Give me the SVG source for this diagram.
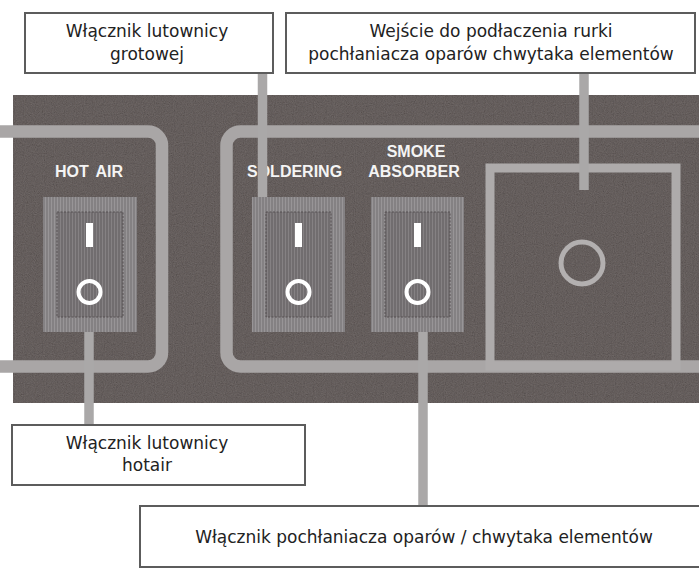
<svg xmlns="http://www.w3.org/2000/svg" width="699" height="569" viewBox="0 0 699 569">
<defs>
<filter id="noise" x="0" y="0" width="100%" height="100%">
<feTurbulence type="fractalNoise" baseFrequency="0.9" numOctaves="2" seed="3" result="t"/>
<feColorMatrix in="t" type="matrix" values="0.4 0.3 0.3 0 0  0.35 0.35 0.3 0 0  0.3 0.35 0.35 0 0  0 0 0 0 0.3"/>
</filter>
<pattern id="stripesLight" width="3" height="10" patternUnits="userSpaceOnUse">
<rect width="3" height="10" fill="#848183"/>
<rect width="1" height="10" fill="#989597"/>
</pattern>
<pattern id="stripesDark" width="3" height="10" patternUnits="userSpaceOnUse">
<rect width="3" height="10" fill="#716d6f"/>
<rect width="1" height="10" fill="#858183"/>
</pattern>
<style>
.frame{fill:none;stroke:#a9a6a6;stroke-width:12.5}
.sq{fill:none;stroke:#aeabab;stroke-width:9}
.sw-out{fill:url(#stripesLight)}
.sw-in{fill:url(#stripesDark);stroke:#565153;stroke-width:1;stroke-dasharray:2 1.5}
.bar{fill:#ffffff}
.ring{fill:none;stroke:#ffffff;stroke-width:4}
.lbl{font-family:"Liberation Sans",Arial,sans-serif;font-weight:bold;font-size:16px;fill:#f4f4f4}
.box{fill:#ffffff;stroke:#5c5c5c;stroke-width:2}
.txt{font-family:"DejaVu Sans",sans-serif;font-size:17px;fill:#222222;text-anchor:middle}
.con{stroke:#aaa8a8;stroke-width:9.5;fill:none}
</style>
</defs>
<rect width="699" height="569" fill="#ffffff"/>

<g id="panel">
<rect x="13" y="95" width="686" height="308" fill="#3f3533"/>
<rect x="13" y="95" width="686" height="308" filter="url(#noise)"/>
<rect x="-30" y="131.5" width="192" height="235" rx="14" class="frame"/>
<rect x="226.5" y="131.5" width="500" height="235" rx="14" class="frame"/>
</g>

<g id="switch-hotair">
<rect x="43" y="197" width="94" height="135" class="sw-out"/>
<rect x="57" y="212" width="66" height="105" class="sw-in"/>
<rect x="86" y="223" width="7" height="24" class="bar"/>
<circle cx="89.5" cy="292" r="11" class="ring"/>
<text x="89" y="177" class="lbl" text-anchor="middle" word-spacing="3">HOT AIR</text>
</g>

<g id="switch-soldering">
<rect x="252" y="197" width="93" height="135" class="sw-out"/>
<rect x="266" y="212" width="65" height="105" class="sw-in"/>
<rect x="295" y="223" width="7" height="24" class="bar"/>
<circle cx="298.5" cy="292" r="11" class="ring"/>
<text x="247" y="177" class="lbl">SOLDERING</text>
</g>

<g id="switch-smoke">
<rect x="371" y="197" width="93" height="135" class="sw-out"/>
<rect x="385" y="212" width="65" height="105" class="sw-in"/>
<rect x="414" y="223" width="7" height="24" class="bar"/>
<circle cx="417.5" cy="292" r="11" class="ring"/>
<text x="416" y="157" class="lbl" text-anchor="middle">SMOKE</text>
<text x="414" y="177" class="lbl" text-anchor="middle">ABSORBER</text>
</g>

<g id="socket">
<rect x="490" y="168" width="186" height="198" class="sq"/>
<circle cx="582" cy="263" r="21" fill="none" stroke="#b3b0b0" stroke-width="5"/>
</g>

<g id="connectors">
<line x1="262.5" y1="73" x2="262.5" y2="197" class="con"/>
<line x1="584" y1="73" x2="584" y2="190" class="con"/>
<line x1="89" y1="332" x2="89" y2="425" class="con"/>
<line x1="423" y1="332" x2="423" y2="506" class="con"/>
</g>

<g id="label-grotowej">
<rect x="25" y="13" width="248" height="60" class="box"/>
<text class="txt"><tspan x="147" y="37">Włącznik lutownicy</tspan><tspan x="147" y="60">grotowej</tspan></text>
</g>

<g id="label-wejscie">
<rect x="286" y="13" width="409" height="60" class="box"/>
<text class="txt"><tspan x="491" y="37">Wejście do podłaczenia rurki</tspan><tspan x="491" y="60">pochłaniacza oparów chwytaka elementów</tspan></text>
</g>

<g id="label-hotair">
<rect x="12" y="425" width="293" height="60" class="box"/>
<text class="txt"><tspan x="147" y="449">Włącznik lutownicy</tspan><tspan x="147" y="471">hotair</tspan></text>
</g>

<g id="label-pochlaniacz">
<rect x="140" y="506" width="565" height="61" class="box"/>
<text x="424" y="543" class="txt">Włącznik pochłaniacza oparów / chwytaka elementów</text>
</g>
</svg>
